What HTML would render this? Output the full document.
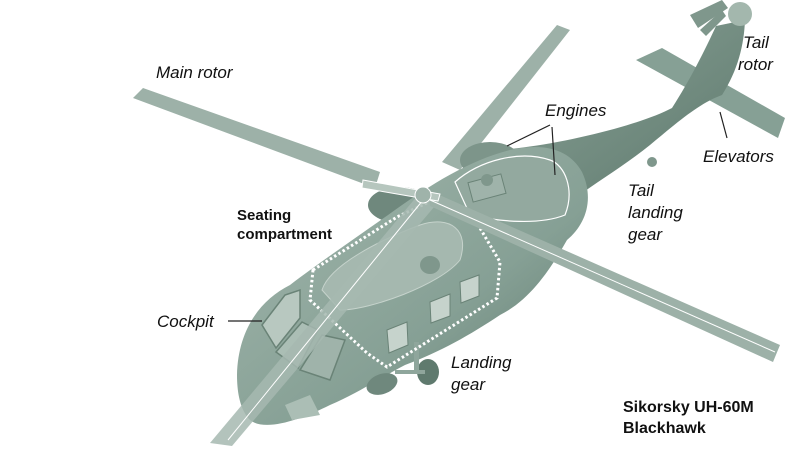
<!DOCTYPE html>
<html><head><meta charset="utf-8"><style>
html,body{margin:0;padding:0;background:#fff;width:800px;height:449px;overflow:hidden}
text{font-family:"Liberation Sans",sans-serif;font-size:17px;fill:#111}
</style></head><body>
<svg width="800" height="449" viewBox="0 0 800 449" xmlns="http://www.w3.org/2000/svg">
<defs>
<linearGradient id="g" x1="0" y1="0" x2="1" y2="1">
<stop offset="0" stop-color="#a3b7ad"/><stop offset="0.6" stop-color="#86a095"/><stop offset="1" stop-color="#5c766a"/></linearGradient>
<linearGradient id="t" x1="0" y1="0" x2="1" y2="1">
<stop offset="0" stop-color="#8aa297"/><stop offset="1" stop-color="#5f7a6e"/></linearGradient>
</defs>
<!-- elevators -->
<polygon points="636,60 662,48 785,118 778,138" fill="#86a095"/>
<!-- tail rotor -->
<polygon points="690,15 722,0 728,8 698,28" fill="#7f978c"/>
<polygon points="700,30 722,10 726,16 706,36" fill="#7f978c"/>
<!-- back rotor blades -->
<polygon points="133,98 143,88 380,172 375,188" fill="#9db1a8"/>
<polygon points="557,25 570,30 460,170 442,162" fill="#9db1a8"/>
<!-- tail boom -->
<path d="M500,150 C560,145 640,125 672,108 C690,80 705,50 716,26 L745,20 C744,45 738,70 722,95 C700,103 680,120 650,145 C625,165 600,180 575,198 Z" fill="url(#t)"/>
<circle cx="740" cy="14" r="12" fill="#a3b7ad"/>
<!-- engines rear pods -->
<ellipse cx="400" cy="205" rx="32" ry="18" fill="#6f887d"/>
<ellipse cx="490" cy="160" rx="30" ry="18" fill="#7d958a"/>
<!-- fuselage -->
<path d="M237,375 C238,330 260,300 290,285 C320,262 360,235 395,210 C430,185 470,160 510,150 C545,142 570,150 582,172 C595,200 585,225 567,240 C550,270 530,300 500,315 C470,335 440,352 405,365 C380,378 360,392 330,405 C300,420 265,432 250,420 C240,410 237,392 237,375 Z" fill="url(#g)"/>
<!-- engine cowl -->
<path d="M455,182 C480,160 520,150 550,160 C565,165 575,190 565,215 C540,225 500,222 470,215 Z" fill="#93a99f" stroke="#fff" stroke-width="1.2"/>
<rect x="470" y="178" width="34" height="20" fill="#9fb3aa" stroke="#6a8377" transform="rotate(-15 487 188)"/>
<circle cx="487" cy="180" r="6" fill="#7f978c"/>
<!-- cabin roof -->
<path d="M322,290 C330,265 380,240 420,225 C450,215 470,230 460,260 C440,285 370,310 340,310 Z" fill="#a5b8af" stroke="#c6d3cc" stroke-width="1"/>
<ellipse cx="430" cy="265" rx="10" ry="9" fill="#7f978c"/>
<!-- cockpit windows -->
<polygon points="262,325 285,295 300,290 300,318 276,348" fill="#b8c8c0" stroke="#6a8377" stroke-width="1.5"/>
<polygon points="276,352 302,322 318,330 298,368" fill="#abbeb5" stroke="#6a8377" stroke-width="1.5"/>
<polygon points="300,370 322,335 345,340 330,380" fill="#9fb3aa" stroke="#6a8377" stroke-width="1.5"/>
<polygon points="285,405 310,395 320,415 292,420" fill="#abbeb5"/>
<!-- cabin windows -->
<polygon points="387,330 407,322 408,345 389,353" fill="#c6d3cc" stroke="#6a8377"/>
<polygon points="430,302 450,294 450,316 431,323" fill="#c6d3cc" stroke="#6a8377"/>
<polygon points="460,282 479,275 479,296 461,303" fill="#c6d3cc" stroke="#6a8377"/>
<!-- landing gear -->
<ellipse cx="382" cy="384" rx="16" ry="10" fill="#6f887d" transform="rotate(-20 382 384)"/>
<ellipse cx="428" cy="372" rx="11" ry="13" fill="#5f7a6e"/>
<rect x="414" y="342" width="5" height="28" fill="#8fa69c"/>
<rect x="395" y="370" width="30" height="4" fill="#8fa69c"/>
<circle cx="652" cy="162" r="5" fill="#7f978c"/>
<!-- seating compartment dotted -->
<path d="M313,270 L397,217 L433,200 L477,223 L500,262 L497,298 L387,367 L367,353 L310,300 Z" fill="none" stroke="#fff" stroke-width="3" stroke-dasharray="2.5,2.5"/>
<!-- front rotor blades -->
<polygon points="418,195 440,200 232,446 210,443" fill="#a6b9b0" opacity="0.85"/>
<polygon points="428,190 430,206 773,362 780,345" fill="#9db1a8"/>
<polygon points="363,180 440,194 438,201 362,188" fill="#b6c6be" stroke="#fff"/>
<line x1="423" y1="200" x2="228" y2="440" stroke="#fff" stroke-width="1"/>
<line x1="430" y1="200" x2="775" y2="352" stroke="#fff" stroke-width="1"/>
<!-- hub -->
<circle cx="423" cy="195" r="8" fill="#9fb3aa" stroke="#fff"/>
<!-- leader lines -->
<g stroke="#222" stroke-width="1.2">
<line x1="550" y1="125" x2="507" y2="146"/><line x1="552" y1="127" x2="555" y2="175"/>
<line x1="228" y1="321" x2="262" y2="321"/><line x1="720" y1="112" x2="727" y2="138"/>
</g>
<text x="156" y="78" font-style="italic">Main rotor</text>
<text x="545" y="116" font-style="italic">Engines</text>
<text x="743" y="48" font-style="italic">Tail</text>
<text x="738" y="70" font-style="italic">rotor</text>
<text x="703" y="162" font-style="italic">Elevators</text>
<text x="628" y="196" font-style="italic">Tail</text>
<text x="628" y="218" font-style="italic">landing</text>
<text x="628" y="240" font-style="italic">gear</text>
<text x="237" y="220" style="font-weight:bold;font-size:15px">Seating</text>
<text x="237" y="239" style="font-weight:bold;font-size:15px">compartment</text>
<text x="157" y="327" font-style="italic">Cockpit</text>
<text x="451" y="368" font-style="italic">Landing</text>
<text x="451" y="390" font-style="italic">gear</text>
<text x="623" y="412" style="font-weight:bold;font-size:16px">Sikorsky UH-60M</text>
<text x="623" y="433" style="font-weight:bold;font-size:16px">Blackhawk</text>
</svg>
</body></html>
